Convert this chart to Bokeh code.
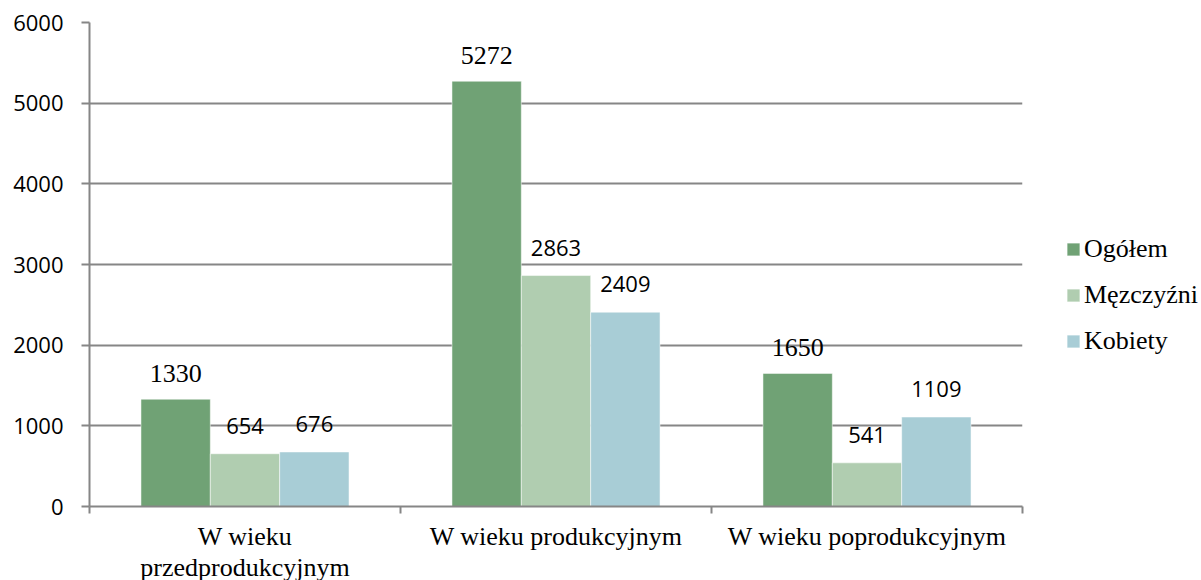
from bokeh.plotting import figure
from bokeh.models import Range1d, FixedTicker, Legend, LegendItem, ColumnDataSource
from bokeh.core.properties import value
from bokeh.embed import file_html
from bokeh.resources import INLINE

categories = ["W wieku\nprzedprodukcyjnym", "W wieku produkcyjnym", "W wieku poprodukcyjnym"]
series = ["Ogółem", "Męzczyźni", "Kobiety"]
ogolem = [1330, 5272, 1650]
mezczyzni = [654, 2863, 541]
kobiety = [676, 2409, 1109]
colors = ["#70A275", "#B0CDB0", "#A8CDD6"]
y_ticks = [0, 1000, 2000, 3000, 4000, 5000, 6000]

values = [ogolem, mezczyzni, kobiety]
label_fonts = ["Liberation Serif", "Open Sans", "Open Sans"]
label_sizes = ["26px", "22px", "22px"]
label_offsets = [-26, -28, -28]

GRID = "#868686"
BAR_W = 0.223

p = figure(
    frame_width=933, frame_height=484,
    min_border_left=89, min_border_top=22, min_border_right=171, min_border_bottom=74,
    x_range=Range1d(0, len(categories)), y_range=Range1d(0, 6000),
    output_backend="svg", toolbar_location=None,
)
p.outline_line_color = None
p.background_fill_color = "white"
p.border_fill_color = "white"

renderers = []
for i, (name, vals) in enumerate(zip(series, values)):
    xs = [k + 0.5 + (i - 1) * BAR_W for k in range(len(categories))]
    src = ColumnDataSource(dict(x=xs, top=vals, txt=[str(v) for v in vals]))
    r = p.vbar(x="x", top="top", width=BAR_W, source=src, fill_color=colors[i],
               line_color="white", line_alpha=0.5, line_width=1)
    renderers.append(r)
    p.text(x="x", y="top", text="txt", source=src, text_align="center",
           text_baseline="alphabetic", y_offset=label_offsets[i],
           text_font=value(label_fonts[i]), text_font_size=label_sizes[i],
           text_color="black")

# grid
p.xgrid.visible = False
p.ygrid.ticker = FixedTicker(ticks=y_ticks)
p.ygrid.grid_line_color = GRID
p.ygrid.grid_line_width = 2

# y axis
p.yaxis.ticker = FixedTicker(ticks=y_ticks)
p.yaxis.axis_line_color = GRID
p.yaxis.axis_line_width = 2
p.yaxis.major_tick_line_color = GRID
p.yaxis.major_tick_line_width = 2
p.yaxis.major_tick_out = 8
p.yaxis.major_tick_in = 0
p.yaxis.minor_tick_line_color = None
p.yaxis.major_label_standoff = 18
p.yaxis.major_label_text_font = "Open Sans"
p.yaxis.major_label_text_font_size = "22px"
p.yaxis.major_label_text_color = "black"

# x axis
centers = [k + 0.5 for k in range(len(categories))]
p.xaxis.ticker = FixedTicker(ticks=centers, minor_ticks=list(range(len(categories) + 1)))
p.xaxis.major_label_overrides = {c: lab for c, lab in zip(centers, categories)}
p.xaxis.axis_line_color = GRID
p.xaxis.axis_line_width = 2
p.xaxis.major_tick_line_color = None
p.xaxis.major_tick_out = 0
p.xaxis.major_tick_in = 0
p.xaxis.minor_tick_line_color = GRID
p.xaxis.minor_tick_line_width = 2
p.xaxis.minor_tick_out = 7
p.xaxis.minor_tick_in = 0
p.xaxis.major_label_standoff = 8
p.xaxis.major_label_text_font = "Liberation Serif"
p.xaxis.major_label_text_font_size = "26px"
p.xaxis.major_label_text_line_height = 1.1
p.xaxis.major_label_text_color = "black"

legend = Legend(
    items=[LegendItem(label=n, renderers=[r]) for n, r in zip(series, renderers)],
    location=(43, 150), orientation="vertical",
    label_text_font="Liberation Serif", label_text_font_size="26px",
    label_text_color="black",
    glyph_width=16, glyph_height=16, label_standoff=3, spacing=16,
    padding=0, margin=0, border_line_color=None, background_fill_alpha=0,
)
p.add_layout(legend, "right")

open("out.html", "w").write(file_html(p, INLINE))
